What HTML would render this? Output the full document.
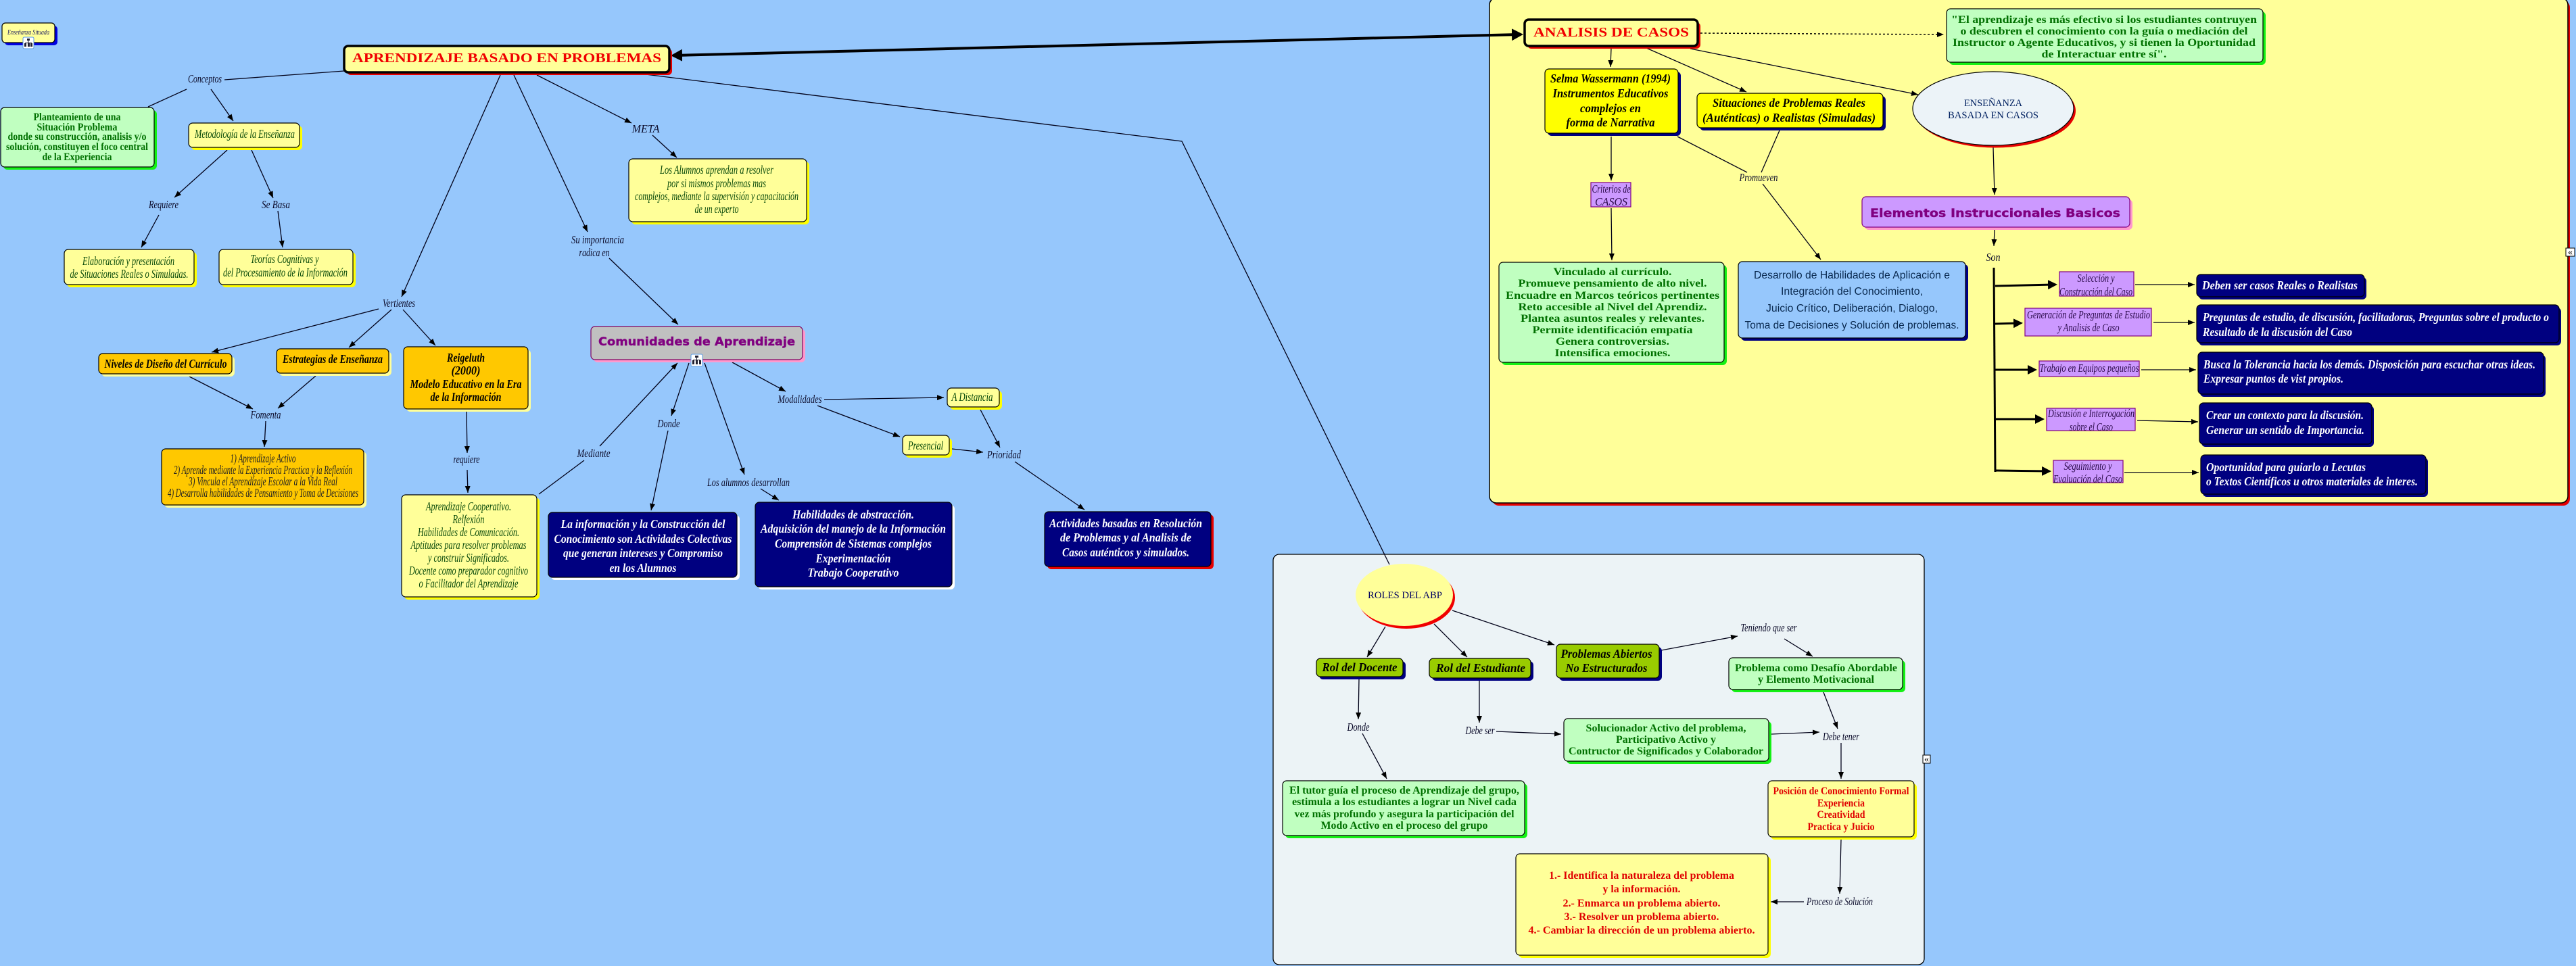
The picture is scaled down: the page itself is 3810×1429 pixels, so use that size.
<!DOCTYPE html>
<html lang="es">
<head>
<meta charset="utf-8">
<title>Aprendizaje Basado en Problemas</title>
<style>
html,body{margin:0;padding:0;background:#96c7fc;}
svg{display:block;}
text{text-anchor:middle;font-family:"Liberation Serif",serif;}
.l{font-size:17px;font-style:italic;fill:#0b0b2a;transform:translateY(1px);}
.y{font-size:18px;font-style:italic;fill:#0a4a0a;transform:translateY(1px);}
.g{font-size:16px;font-weight:bold;fill:#007000;transform:translateY(1px);}
.k{font-size:18px;font-weight:bold;font-style:italic;fill:#000;transform:translateY(1px);}
.w{font-size:18px;font-weight:bold;font-style:italic;fill:#fff;transform:translateY(1px);}
.p{font-size:17px;font-style:italic;fill:#2a0a4a;transform:translateY(1px);}
.r{font-size:15.5px;font-weight:bold;fill:#e00000;transform:translateY(1px);}
.h{font-family:"DejaVu Sans",sans-serif;font-size:17px;font-weight:bold;fill:#800080;stroke:#800080;stroke-width:.4;}
.n{font-size:14.5px;fill:#002060;}
.s{text-anchor:start;}
</style>
</head>
<body>
<svg xmlns="http://www.w3.org/2000/svg" width="3810" height="1429" viewBox="0 0 3810 1429">
<defs>
<marker id="a" markerUnits="userSpaceOnUse" markerWidth="10" markerHeight="8" refX="10" refY="4" orient="auto" viewBox="0 0 10 8"><path d="M0 0L10 4L0 8z" fill="#000"/></marker>
<marker id="m" markerUnits="userSpaceOnUse" markerWidth="14" markerHeight="14" refX="8" refY="7" orient="auto" viewBox="0 0 14 14"><path d="M0 0L14 7L0 14z" fill="#000"/></marker>
<marker id="b" markerUnits="userSpaceOnUse" markerWidth="17" markerHeight="18" refX="11" refY="9" orient="auto-start-reverse" viewBox="0 0 17 18"><path d="M0 0L17 9L0 18z" fill="#000"/></marker>
</defs>
<rect width="3810" height="1429" fill="#96c7fc"/>

<!-- Panels -->
<rect x="2207" y="1" width="1594" height="747" rx="10" fill="#e60000"/>
<rect x="2203" y="-3" width="1595" height="747" rx="10" fill="#ffff99" stroke="#000" stroke-width="1.5"/>
<rect x="1883" y="820" width="963" height="607" rx="9" fill="#ecf3f6" stroke="#000" stroke-width="1.3"/>

<!-- Connectors without arrowheads -->
<g stroke="#000018" stroke-width="1.3" fill="none">
<line x1="509" y1="105" x2="332" y2="118"/>
<line x1="276" y1="132" x2="219" y2="158"/>
<polyline points="923,106 1748,209 2055,835"/>
<line x1="797" y1="731" x2="864" y2="681"/>
<line x1="2481" y1="202" x2="2584" y2="255"/>
<line x1="2632" y1="193" x2="2605" y2="255"/>
</g>

<!-- Connectors with arrowheads -->
<g stroke="#000018" stroke-width="1.3" fill="none" marker-end="url(#a)">
<line x1="312" y1="132" x2="345" y2="179"/>
<line x1="336" y1="222" x2="258" y2="292"/>
<line x1="372" y1="222" x2="404" y2="293"/>
<line x1="235" y1="318" x2="209" y2="366"/>
<line x1="411" y1="312" x2="418" y2="366"/>
<line x1="740" y1="111" x2="594" y2="439"/>
<line x1="760" y1="111" x2="869" y2="343"/>
<line x1="794" y1="111" x2="934" y2="182"/>
<line x1="965" y1="200" x2="1001" y2="233"/>
<line x1="901" y1="382" x2="1003" y2="480"/>
<line x1="560" y1="457" x2="313" y2="521"/>
<line x1="579" y1="458" x2="516" y2="514"/>
<line x1="596" y1="458" x2="644" y2="511"/>
<line x1="280" y1="557" x2="374" y2="605"/>
<line x1="467" y1="556" x2="411" y2="604"/>
<line x1="393" y1="623" x2="391" y2="661"/>
<line x1="690" y1="608" x2="691" y2="670"/>
<line x1="691" y1="695" x2="692" y2="729"/>
<line x1="887" y1="660" x2="1002" y2="537"/>
<line x1="1019" y1="537" x2="993" y2="615"/>
<line x1="988" y1="637" x2="963" y2="755"/>
<line x1="1042" y1="537" x2="1101" y2="702"/>
<line x1="1125" y1="723" x2="1152" y2="740"/>
<line x1="1083" y1="536" x2="1162" y2="579"/>
<line x1="1219" y1="591" x2="1396" y2="588"/>
<line x1="1209" y1="600" x2="1331" y2="646"/>
<line x1="1408" y1="664" x2="1454" y2="669"/>
<line x1="1450" y1="606" x2="1479" y2="662"/>
<line x1="1501" y1="683" x2="1604" y2="754"/>
<line x1="2383" y1="71" x2="2382" y2="99"/>
<line x1="2435" y1="71" x2="2583" y2="136"/>
<line x1="2500" y1="72" x2="2837" y2="140"/>
<line x1="2383" y1="202" x2="2383" y2="267"/>
<line x1="2383" y1="308" x2="2384" y2="385"/>
<line x1="2607" y1="272" x2="2693" y2="384"/>
<line x1="2948" y1="218" x2="2950" y2="288"/>
<line x1="2950" y1="340" x2="2949" y2="364"/>
<line x1="3158" y1="421" x2="3246" y2="421"/>
<line x1="3185" y1="477" x2="3246" y2="477"/>
<line x1="3167" y1="547" x2="3248" y2="547"/>
<line x1="3161" y1="622" x2="3251" y2="624"/>
<line x1="3142" y1="699" x2="3252" y2="699"/>
<line x1="2049" y1="927" x2="2022" y2="972"/>
<line x1="2121" y1="923" x2="2170" y2="972"/>
<line x1="2148" y1="903" x2="2299" y2="954"/>
<line x1="2457" y1="962" x2="2570" y2="941"/>
<line x1="2639" y1="945" x2="2681" y2="971"/>
<line x1="2697" y1="1024" x2="2718" y2="1078"/>
<line x1="2010" y1="1005" x2="2009" y2="1064"/>
<line x1="2015" y1="1085" x2="2051" y2="1152"/>
<line x1="2188" y1="1007" x2="2188" y2="1069"/>
<line x1="2213" y1="1082" x2="2309" y2="1086"/>
<line x1="2620" y1="1086" x2="2691" y2="1083"/>
<line x1="2723" y1="1099" x2="2723" y2="1152"/>
<line x1="2723" y1="1242" x2="2721" y2="1322"/>
<line x1="2668" y1="1334" x2="2619" y2="1334"/>
</g>

<!-- Dotted and thick connectors -->
<line x1="2515" y1="49" x2="2875" y2="51" stroke="#000" stroke-width="1.5" stroke-dasharray="3 3" marker-end="url(#a)"/>
<line x1="998" y1="82" x2="2247" y2="51" stroke="#000" stroke-width="4" marker-start="url(#b)" marker-end="url(#b)"/>
<line x1="2949" y1="396" x2="2951" y2="698" stroke="#000" stroke-width="3"/>
<g stroke="#000" stroke-width="3" marker-end="url(#m)">
<line x1="2951" y1="423" x2="3037" y2="421"/>
<line x1="2951" y1="479" x2="2986" y2="478"/>
<line x1="2951" y1="547" x2="3007" y2="547"/>
<line x1="2951" y1="620" x2="3018" y2="620"/>
<line x1="2951" y1="696" x2="3028" y2="697"/>
</g>

<!-- Left side nodes -->
<rect x="7" y="38" width="78" height="29" rx="5" fill="#0000e0"/>
<rect x="3" y="34" width="78" height="29" rx="5" fill="#ffff99" stroke="#000" stroke-width="1.2"/>
<text x="42" y="51" font-size="10" font-style="italic" fill="#202060" textLength="62" lengthAdjust="spacingAndGlyphs">Enseñanza Situada</text>

<rect x="513" y="72" width="481" height="39" rx="6" fill="#e60000"/>
<rect x="509" y="68" width="481" height="39" rx="6" fill="#ffff99" stroke="#000" stroke-width="3.5"/>
<text x="749.5" y="92" font-size="20" font-weight="bold" fill="#f00000" textLength="457" lengthAdjust="spacingAndGlyphs">APRENDIZAJE BASADO EN PROBLEMAS</text>

<rect x="5" y="163" width="227" height="88" rx="6" fill="#14f014"/>
<rect x="1" y="159" width="227" height="88" rx="6" fill="#c0ffc0" stroke="#000" stroke-width="1.2"/>
<text class="g" x="114" y="177" textLength="129" lengthAdjust="spacingAndGlyphs">Planteamiento de una</text>
<text class="g" x="114" y="192" textLength="119" lengthAdjust="spacingAndGlyphs">Situación Problema</text>
<text class="g" x="114" y="206" textLength="205" lengthAdjust="spacingAndGlyphs">donde su construcción, analisis y/o</text>
<text class="g" x="114" y="221" textLength="210" lengthAdjust="spacingAndGlyphs">solución, constituyen el foco central</text>
<text class="g" x="114" y="236" textLength="103" lengthAdjust="spacingAndGlyphs">de la Experiencia</text>

<rect x="283" y="186" width="164" height="36" rx="6" fill="#ffff00"/>
<rect x="279" y="182" width="164" height="36" rx="6" fill="#ffff99" stroke="#000" stroke-width="1.2"/>
<text class="y" x="362" y="203" textLength="148" lengthAdjust="spacingAndGlyphs">Metodología de la Enseñanza</text>

<rect x="99" y="373" width="192" height="52" rx="6" fill="#ffff00"/>
<rect x="95" y="369" width="192" height="52" rx="6" fill="#ffff99" stroke="#000" stroke-width="1.2"/>
<text class="y" x="190" y="391" textLength="136" lengthAdjust="spacingAndGlyphs">Elaboración y presentación</text>
<text class="y" x="191" y="410" textLength="175" lengthAdjust="spacingAndGlyphs">de Situaciones Reales o Simuladas.</text>

<rect x="328" y="373" width="198" height="52" rx="6" fill="#ffff00"/>
<rect x="324" y="369" width="198" height="52" rx="6" fill="#ffff99" stroke="#000" stroke-width="1.2"/>
<text class="y" x="421" y="388" textLength="101" lengthAdjust="spacingAndGlyphs">Teorías Cognitivas y</text>
<text class="y" x="422" y="408" textLength="184" lengthAdjust="spacingAndGlyphs">del Procesamiento de la Información</text>

<rect x="934" y="239" width="263" height="93" rx="6" fill="#ffff00"/>
<rect x="930" y="235" width="263" height="93" rx="6" fill="#ffff99" stroke="#000" stroke-width="1.2"/>
<text class="y" x="1060" y="256" textLength="168" lengthAdjust="spacingAndGlyphs">Los Alumnos aprendan a resolver</text>
<text class="y" x="1060" y="276" textLength="146" lengthAdjust="spacingAndGlyphs">por si mismos problemas mas</text>
<text class="y" x="1060" y="295" textLength="242" lengthAdjust="spacingAndGlyphs">complejos, mediante la supervisión y capacitación</text>
<text class="y" x="1060" y="314" textLength="65" lengthAdjust="spacingAndGlyphs">de un experto</text>

<!-- Orange nodes -->
<rect x="150" y="527" width="197" height="30" rx="6" fill="#ffff99"/>
<rect x="146" y="523" width="197" height="30" rx="6" fill="#ffc800" stroke="#000" stroke-width="1.2"/>
<text class="k" x="245" y="543" textLength="181" lengthAdjust="spacingAndGlyphs">Niveles de Diseño del Currículo</text>

<rect x="413" y="520" width="166" height="36" rx="6" fill="#ffff99"/>
<rect x="409" y="516" width="166" height="36" rx="6" fill="#ffc800" stroke="#000" stroke-width="1.2"/>
<text class="k" x="492" y="536" textLength="148" lengthAdjust="spacingAndGlyphs">Estrategias de Enseñanza</text>

<rect x="601" y="517" width="184" height="92" rx="6" fill="#ffff99"/>
<rect x="597" y="513" width="184" height="92" rx="6" fill="#ffc800" stroke="#000" stroke-width="1.2"/>
<text class="k" x="689" y="534" textLength="56" lengthAdjust="spacingAndGlyphs">Reigeluth</text>
<text class="k" x="689" y="553" textLength="43" lengthAdjust="spacingAndGlyphs">(2000)</text>
<text class="k" x="689" y="573" textLength="165" lengthAdjust="spacingAndGlyphs">Modelo Educativo en la Era</text>
<text class="k" x="689" y="592" textLength="105" lengthAdjust="spacingAndGlyphs">de la Información</text>

<rect x="243" y="668" width="299" height="83" rx="6" fill="#ffff99"/>
<rect x="239" y="664" width="299" height="83" rx="6" fill="#ffc800" stroke="#000" stroke-width="1.2"/>
<text class="y" x="389" y="683" textLength="97" lengthAdjust="spacingAndGlyphs" style="fill:#222">1) Aprendizaje Activo</text>
<text class="y" x="389" y="700" textLength="264" lengthAdjust="spacingAndGlyphs" style="fill:#222">2) Aprende mediante la Experiencia Practica y la Reflexión</text>
<text class="y" x="389" y="717" textLength="220" lengthAdjust="spacingAndGlyphs" style="fill:#222">3) Vincula el Aprendizaje Escolar a la Vida Real</text>
<text class="y" x="389" y="734" textLength="282" lengthAdjust="spacingAndGlyphs" style="fill:#222">4) Desarrolla habilidades de Pensamiento y Toma de Decisiones</text>

<rect x="598" y="736" width="200" height="151" rx="6" fill="#ffff00"/>
<rect x="594" y="732" width="200" height="151" rx="6" fill="#ffff99" stroke="#000" stroke-width="1.2"/>
<text class="y" x="693" y="754" textLength="126" lengthAdjust="spacingAndGlyphs">Aprendizaje Cooperativo.</text>
<text class="y" x="693" y="773" textLength="47" lengthAdjust="spacingAndGlyphs">Relfexión</text>
<text class="y" x="693" y="792" textLength="150" lengthAdjust="spacingAndGlyphs">Habilidades de Comunicación.</text>
<text class="y" x="693" y="811" textLength="171" lengthAdjust="spacingAndGlyphs">Aptitudes para resolver problemas</text>
<text class="y" x="693" y="830" textLength="120" lengthAdjust="spacingAndGlyphs">y construir Significados.</text>
<text class="y" x="693" y="849" textLength="176" lengthAdjust="spacingAndGlyphs">Docente como preparador cognitivo</text>
<text class="y" x="693" y="868" textLength="147" lengthAdjust="spacingAndGlyphs">o Facilitador del Aprendizaje</text>

<!-- Comunidades -->
<rect x="878" y="487" width="313" height="49" rx="6" fill="#ff99cc"/>
<rect x="874" y="483" width="313" height="49" rx="6" fill="#c0c0c0" stroke="#800060" stroke-width="1.2"/>
<text class="h" x="1030.5" y="511" textLength="291" lengthAdjust="spacingAndGlyphs">Comunidades de Aprendizaje</text>

<rect x="815" y="762" width="279" height="96" rx="6" fill="#fff"/>
<rect x="811" y="758" width="279" height="96" rx="6" fill="#000080" stroke="#000" stroke-width="1.2"/>
<text class="w" x="951" y="780" textLength="243" lengthAdjust="spacingAndGlyphs">La información y la Construcción del</text>
<text class="w" x="951" y="802" textLength="263" lengthAdjust="spacingAndGlyphs">Conocimiento son Actividades Colectivas</text>
<text class="w" x="951" y="823" textLength="236" lengthAdjust="spacingAndGlyphs">que generan intereses y Compromiso</text>
<text class="w" x="951" y="845" textLength="99" lengthAdjust="spacingAndGlyphs">en los Alumnos</text>

<rect x="1121" y="747" width="291" height="125" rx="6" fill="#fff"/>
<rect x="1117" y="743" width="291" height="125" rx="6" fill="#000080" stroke="#000" stroke-width="1.2"/>
<text class="w" x="1262" y="766" textLength="180" lengthAdjust="spacingAndGlyphs">Habilidades de abstracción.</text>
<text class="w" x="1262" y="787" textLength="274" lengthAdjust="spacingAndGlyphs">Adquisición del manejo de la Información</text>
<text class="w" x="1262" y="809" textLength="232" lengthAdjust="spacingAndGlyphs">Comprensión de Sistemas complejos</text>
<text class="w" x="1262" y="831" textLength="111" lengthAdjust="spacingAndGlyphs">Experimentación</text>
<text class="w" x="1262" y="852" textLength="135" lengthAdjust="spacingAndGlyphs">Trabajo Cooperativo</text>

<rect x="1549" y="761" width="246" height="81" rx="6" fill="#e60000"/>
<rect x="1545" y="757" width="246" height="81" rx="6" fill="#000080" stroke="#000" stroke-width="1.2"/>
<text class="w" x="1665" y="779" textLength="226" lengthAdjust="spacingAndGlyphs">Actividades basadas en Resolución</text>
<text class="w" x="1665" y="800" textLength="194" lengthAdjust="spacingAndGlyphs">de Problemas y al Analisis de</text>
<text class="w" x="1665" y="822" textLength="188" lengthAdjust="spacingAndGlyphs">Casos auténticos y simulados.</text>

<rect x="1405" y="578" width="77" height="28" rx="6" fill="#ffff00"/>
<rect x="1401" y="574" width="77" height="28" rx="6" fill="#ffff99" stroke="#000" stroke-width="1.2"/>
<text class="y" x="1438" y="592" textLength="61" lengthAdjust="spacingAndGlyphs">A Distancia</text>

<rect x="1339" y="648" width="69" height="29" rx="6" fill="#ffff00"/>
<rect x="1335" y="644" width="69" height="29" rx="6" fill="#ffff99" stroke="#000" stroke-width="1.2"/>
<text class="y" x="1369" y="664" textLength="52" lengthAdjust="spacingAndGlyphs">Presencial</text>

<!-- Connector labels, left -->
<text class="l" x="303" y="121" textLength="50" lengthAdjust="spacingAndGlyphs">Conceptos</text>
<text class="l" x="242" y="307" textLength="44" lengthAdjust="spacingAndGlyphs">Requiere</text>
<text class="l" x="408" y="307" textLength="42" lengthAdjust="spacingAndGlyphs">Se Basa</text>
<text class="l" x="590" y="453" textLength="48" lengthAdjust="spacingAndGlyphs">Vertientes</text>
<text class="l" x="955" y="195" textLength="41" lengthAdjust="spacingAndGlyphs">META</text>
<text class="l" x="884" y="359" textLength="78" lengthAdjust="spacingAndGlyphs">Su importancia</text>
<text class="l" x="879" y="378" textLength="45" lengthAdjust="spacingAndGlyphs">radica en</text>
<text class="l" x="393" y="618" textLength="45" lengthAdjust="spacingAndGlyphs">Fomenta</text>
<text class="l" x="690" y="684" textLength="39" lengthAdjust="spacingAndGlyphs">requiere</text>
<text class="l" x="878" y="675" textLength="49" lengthAdjust="spacingAndGlyphs">Mediante</text>
<text class="l" x="989" y="631" textLength="33" lengthAdjust="spacingAndGlyphs">Donde</text>
<text class="l" x="1107" y="718" textLength="122" lengthAdjust="spacingAndGlyphs">Los alumnos desarrollan</text>
<text class="l" x="1183" y="595" textLength="65" lengthAdjust="spacingAndGlyphs">Modalidades</text>
<text class="l" x="1485" y="677" textLength="50" lengthAdjust="spacingAndGlyphs">Prioridad</text>

<!-- Casos panel nodes -->
<rect x="2259" y="33" width="256" height="39" rx="6" fill="#e60000"/>
<rect x="2255" y="29" width="256" height="39" rx="6" fill="#ffff99" stroke="#000" stroke-width="3.5"/>
<text x="2383" y="54" font-size="20" font-weight="bold" fill="#f00000" textLength="230" lengthAdjust="spacingAndGlyphs">ANALISIS DE CASOS</text>

<rect x="2883" y="17" width="468" height="79" rx="6" fill="#14f014"/>
<rect x="2879" y="13" width="468" height="79" rx="6" fill="#c0ffc0" stroke="#000" stroke-width="1.2"/>
<text class="g" x="3112" y="33" textLength="452" lengthAdjust="spacingAndGlyphs">"El aprendizaje es más efectivo si los estudiantes contruyen</text>
<text class="g" x="3112" y="50" textLength="425" lengthAdjust="spacingAndGlyphs">o descubren el conocimiento con la guía o mediación del</text>
<text class="g" x="3112" y="67" textLength="448" lengthAdjust="spacingAndGlyphs">Instructor o Agente Educativos, y si tienen la Oportunidad</text>
<text class="g" x="3112" y="84" textLength="185" lengthAdjust="spacingAndGlyphs">de Interactuar entre sí".</text>

<rect x="2289" y="106" width="197" height="95" rx="6" fill="#000080"/>
<rect x="2285" y="102" width="197" height="95" rx="6" fill="#ffff00" stroke="#000" stroke-width="1.2"/>
<text class="k" x="2382" y="121" textLength="178" lengthAdjust="spacingAndGlyphs">Selma Wassermann (1994)</text>
<text class="k" x="2382" y="143" textLength="171" lengthAdjust="spacingAndGlyphs">Instrumentos Educativos</text>
<text class="k" x="2382" y="165" textLength="90" lengthAdjust="spacingAndGlyphs">complejos en</text>
<text class="k" x="2382" y="186" textLength="131" lengthAdjust="spacingAndGlyphs">forma de Narrativa</text>

<rect x="2514" y="142" width="275" height="51" rx="6" fill="#000080"/>
<rect x="2510" y="138" width="275" height="51" rx="6" fill="#ffff00" stroke="#000" stroke-width="1.2"/>
<text class="k" x="2646" y="157" textLength="226" lengthAdjust="spacingAndGlyphs">Situaciones de Problemas Reales</text>
<text class="k" x="2646" y="179" textLength="256" lengthAdjust="spacingAndGlyphs">(Auténticas) o Realistas (Simuladas)</text>

<ellipse cx="2951" cy="164" rx="119" ry="54.5" fill="#e60000"/>
<ellipse cx="2948" cy="160.5" rx="119" ry="54.5" fill="#ecf3f8" stroke="#000" stroke-width="1.2"/>
<text class="n" x="2948" y="157" textLength="86" lengthAdjust="spacingAndGlyphs">ENSEÑANZA</text>
<text class="n" x="2948" y="175" textLength="134" lengthAdjust="spacingAndGlyphs">BASADA EN CASOS</text>

<rect x="2758" y="295" width="396" height="45" rx="6" fill="#ff99cc"/>
<rect x="2754" y="291" width="396" height="45" rx="6" fill="#cc99ff" stroke="#800080" stroke-width="1.2"/>
<text class="h" x="2951" y="321" textLength="370" lengthAdjust="spacingAndGlyphs">Elementos Instruccionales Basicos</text>

<rect x="2353" y="270" width="59" height="36" fill="#cc99ff" stroke="#800080" stroke-width="1.2"/>
<text class="p" x="2383" y="284" textLength="57" lengthAdjust="spacingAndGlyphs">Criterios de</text>
<text class="p" x="2383" y="303" textLength="48" lengthAdjust="spacingAndGlyphs">CASOS</text>

<text class="l" x="2601" y="267" textLength="57" lengthAdjust="spacingAndGlyphs">Promueven</text>
<text class="l" x="2948" y="385" textLength="21" lengthAdjust="spacingAndGlyphs">Son</text>

<rect x="2221" y="392" width="333" height="148" rx="6" fill="#14f014"/>
<rect x="2217" y="388" width="333" height="148" rx="6" fill="#c0ffc0" stroke="#000" stroke-width="1.2"/>
<text class="g" x="2385" y="406" textLength="175" lengthAdjust="spacingAndGlyphs">Vinculado al currículo.</text>
<text class="g" x="2385" y="423" textLength="279" lengthAdjust="spacingAndGlyphs">Promueve pensamiento de alto nivel.</text>
<text class="g" x="2385" y="441" textLength="316" lengthAdjust="spacingAndGlyphs">Encuadre en Marcos teóricos pertinentes</text>
<text class="g" x="2385" y="458" textLength="279" lengthAdjust="spacingAndGlyphs">Reto accesible al Nivel del Aprendiz.</text>
<text class="g" x="2385" y="475" textLength="272" lengthAdjust="spacingAndGlyphs">Plantea asuntos reales y relevantes.</text>
<text class="g" x="2385" y="492" textLength="237" lengthAdjust="spacingAndGlyphs">Permite identificación empatía</text>
<text class="g" x="2385" y="509" textLength="168" lengthAdjust="spacingAndGlyphs">Genera controversias.</text>
<text class="g" x="2385" y="526" textLength="171" lengthAdjust="spacingAndGlyphs">Intensifica emociones.</text>

<rect x="2575" y="391" width="336" height="113" rx="6" fill="#000080"/>
<rect x="2571" y="387" width="336" height="113" rx="6" fill="#96c7fc" stroke="#000" stroke-width="1.2"/>
<g font-size="16" fill="#0a2a50">
<text x="2739" y="412" style="font-family:'Liberation Sans',sans-serif" textLength="290" lengthAdjust="spacingAndGlyphs">Desarrollo de Habilidades de Aplicación e</text>
<text x="2739" y="436" style="font-family:'Liberation Sans',sans-serif" textLength="210" lengthAdjust="spacingAndGlyphs">Integración del Conocimiento,</text>
<text x="2739" y="461" style="font-family:'Liberation Sans',sans-serif" textLength="254" lengthAdjust="spacingAndGlyphs">Juicio Crítico, Deliberación, Dialogo,</text>
<text x="2739" y="486" style="font-family:'Liberation Sans',sans-serif" textLength="317" lengthAdjust="spacingAndGlyphs">Toma de Decisiones y Solución de problemas.</text>
</g>

<!-- Purple rectangles -->
<g fill="#cc99ff" stroke="#800080" stroke-width="1.2">
<rect x="3046" y="402" width="110" height="36"/>
<rect x="2995" y="456" width="187" height="41"/>
<rect x="3016" y="534" width="148" height="23"/>
<rect x="3027" y="604" width="131" height="33"/>
<rect x="3037" y="681" width="103" height="33"/>
</g>
<text class="p" x="3100" y="416" textLength="55" lengthAdjust="spacingAndGlyphs">Selección y</text>
<text class="p" x="3100" y="436" textLength="108" lengthAdjust="spacingAndGlyphs">Construcción del Caso</text>
<text class="p" x="3089" y="470" textLength="182" lengthAdjust="spacingAndGlyphs">Generación de Preguntas de Estudio</text>
<text class="p" x="3089" y="489" textLength="91" lengthAdjust="spacingAndGlyphs">y Analisis de Caso</text>
<text class="p" x="3090" y="549" textLength="147" lengthAdjust="spacingAndGlyphs">Trabajo en Equipos pequeños</text>
<text class="p" x="3093" y="616" textLength="128" lengthAdjust="spacingAndGlyphs">Discusión e Interrogación</text>
<text class="p" x="3093" y="636" textLength="64" lengthAdjust="spacingAndGlyphs">sobre el Caso</text>
<text class="p" x="3088" y="694" textLength="71" lengthAdjust="spacingAndGlyphs">Seguimiento y</text>
<text class="p" x="3088" y="713" textLength="102" lengthAdjust="spacingAndGlyphs">Evaluación del Caso</text>

<!-- Navy boxes on the right -->
<g fill="#000080">
<rect x="3252" y="410" width="248" height="33" rx="6"/>
<rect x="3252" y="455" width="536" height="56" rx="6"/>
<rect x="3254" y="525" width="511" height="62" rx="6"/>
<rect x="3256" y="600" width="255" height="61" rx="6"/>
<rect x="3258" y="677" width="333" height="58" rx="6"/>
</g>
<g fill="#000080" stroke="#000" stroke-width="1.2">
<rect x="3249" y="406" width="248" height="33" rx="6"/>
<rect x="3249" y="451" width="536" height="56" rx="6"/>
<rect x="3251" y="521" width="511" height="62" rx="6"/>
<rect x="3253" y="596" width="255" height="61" rx="6"/>
<rect x="3255" y="673" width="333" height="58" rx="6"/>
</g>
<text class="w" x="3372" y="427" textLength="230" lengthAdjust="spacingAndGlyphs">Deben ser casos Reales o Realistas</text>
<text class="w s" x="3258" y="474" textLength="512" lengthAdjust="spacingAndGlyphs">Preguntas de estudio, de discusión, facilitadoras, Preguntas sobre el producto o</text>
<text class="w s" x="3258" y="496" textLength="221" lengthAdjust="spacingAndGlyphs">Resultado de la discusión del Caso</text>
<text class="w s" x="3259" y="544" textLength="491" lengthAdjust="spacingAndGlyphs">Busca la Tolerancia hacia los demás. Disposición para escuchar otras ideas.</text>
<text class="w s" x="3259" y="565" textLength="207" lengthAdjust="spacingAndGlyphs">Expresar puntos de vist propios.</text>
<text class="w s" x="3263" y="619" textLength="233" lengthAdjust="spacingAndGlyphs">Crear un contexto para la discusión.</text>
<text class="w s" x="3263" y="641" textLength="234" lengthAdjust="spacingAndGlyphs">Generar un sentido de Importancia.</text>
<text class="w s" x="3263" y="696" textLength="236" lengthAdjust="spacingAndGlyphs">Oportunidad para guiarlo a Lecutas</text>
<text class="w s" x="3263" y="717" textLength="313" lengthAdjust="spacingAndGlyphs">o Textos Científicos u otros materiales de interes.</text>

<!-- Roles panel nodes -->
<ellipse cx="2080" cy="884" rx="72" ry="46" fill="#f00000"/>
<ellipse cx="2077" cy="880" rx="72" ry="46" fill="#ffff99"/>
<text x="2078" y="885" font-size="15" fill="#000060" textLength="110" lengthAdjust="spacingAndGlyphs">ROLES DEL ABP</text>

<g fill="#000080">
<rect x="1951" y="978" width="128" height="27" rx="6"/>
<rect x="2118" y="978" width="150" height="29" rx="6"/>
<rect x="2306" y="957" width="152" height="50" rx="6"/>
</g>
<g fill="#99cc00" stroke="#000" stroke-width="1.2">
<rect x="1947" y="974" width="128" height="27" rx="6"/>
<rect x="2114" y="974" width="150" height="29" rx="6"/>
<rect x="2302" y="953" width="152" height="50" rx="6"/>
</g>
<text class="k" x="2011" y="992" textLength="111" lengthAdjust="spacingAndGlyphs">Rol del Docente</text>
<text class="k" x="2190" y="993" textLength="132" lengthAdjust="spacingAndGlyphs">Rol del Estudiante</text>
<text class="k" x="2376" y="972" textLength="135" lengthAdjust="spacingAndGlyphs">Problemas Abiertos</text>
<text class="k" x="2376" y="993" textLength="121" lengthAdjust="spacingAndGlyphs">No Estructurados</text>

<rect x="2561" y="977" width="257" height="47" rx="6" fill="#14f014"/>
<rect x="2557" y="973" width="257" height="47" rx="6" fill="#c0ffc0" stroke="#000" stroke-width="1.2"/>
<text class="g" x="2686" y="992" textLength="240" lengthAdjust="spacingAndGlyphs">Problema como Desafío Abordable</text>
<text class="g" x="2686" y="1009" textLength="172" lengthAdjust="spacingAndGlyphs">y Elemento Motivacional</text>

<rect x="2317" y="1067" width="303" height="63" rx="6" fill="#14f014"/>
<rect x="2313" y="1063" width="303" height="63" rx="6" fill="#c0ffc0" stroke="#000" stroke-width="1.2"/>
<text class="g" x="2464" y="1081" textLength="237" lengthAdjust="spacingAndGlyphs">Solucionador Activo del problema,</text>
<text class="g" x="2464" y="1098" textLength="148" lengthAdjust="spacingAndGlyphs">Participativo Activo y</text>
<text class="g" x="2464" y="1115" textLength="288" lengthAdjust="spacingAndGlyphs">Contructor de Significados y Colaborador</text>

<rect x="1901" y="1159" width="358" height="81" rx="6" fill="#14f014"/>
<rect x="1897" y="1155" width="358" height="81" rx="6" fill="#c0ffc0" stroke="#000" stroke-width="1.2"/>
<text class="g" x="2077" y="1173" textLength="340" lengthAdjust="spacingAndGlyphs">El tutor guía el proceso de Aprendizaje del grupo,</text>
<text class="g" x="2077" y="1190" textLength="332" lengthAdjust="spacingAndGlyphs">estimula a los estudiantes a lograr un Nivel cada</text>
<text class="g" x="2077" y="1208" textLength="325" lengthAdjust="spacingAndGlyphs">vez más profundo y asegura la participación del</text>
<text class="g" x="2077" y="1225" textLength="247" lengthAdjust="spacingAndGlyphs">Modo Activo en el proceso del grupo</text>

<rect x="2619" y="1159" width="216" height="83" rx="6" fill="#ffff00"/>
<rect x="2615" y="1155" width="216" height="83" rx="6" fill="#ffff99" stroke="#000" stroke-width="1.2"/>
<text class="r" x="2723" y="1174" textLength="201" lengthAdjust="spacingAndGlyphs">Posición de Conocimiento Formal</text>
<text class="r" x="2723" y="1192" textLength="70" lengthAdjust="spacingAndGlyphs">Experiencia</text>
<text class="r" x="2723" y="1209" textLength="71" lengthAdjust="spacingAndGlyphs">Creatividad</text>
<text class="r" x="2723" y="1227" textLength="99" lengthAdjust="spacingAndGlyphs">Practica y Juicio</text>

<rect x="2246" y="1267" width="373" height="150" rx="6" fill="#ffff00"/>
<rect x="2242" y="1263" width="373" height="150" rx="6" fill="#ffff99" stroke="#000" stroke-width="1.2"/>
<text class="r" x="2428" y="1299" textLength="274" lengthAdjust="spacingAndGlyphs">1.- Identifica la naturaleza del problema</text>
<text class="r" x="2428" y="1319" textLength="115" lengthAdjust="spacingAndGlyphs">y la información.</text>
<text class="r" x="2428" y="1340" textLength="233" lengthAdjust="spacingAndGlyphs">2.- Enmarca un problema abierto.</text>
<text class="r" x="2428" y="1360" textLength="229" lengthAdjust="spacingAndGlyphs">3.- Resolver un problema abierto.</text>
<text class="r" x="2428" y="1380" textLength="335" lengthAdjust="spacingAndGlyphs">4.- Cambiar la dirección de un problema abierto.</text>

<text class="l" x="2616" y="933" textLength="83" lengthAdjust="spacingAndGlyphs">Teniendo que ser</text>
<text class="l" x="2009" y="1080" textLength="33" lengthAdjust="spacingAndGlyphs">Donde</text>
<text class="l" x="2189" y="1085" textLength="43" lengthAdjust="spacingAndGlyphs">Debe ser</text>
<text class="l" x="2723" y="1094" textLength="54" lengthAdjust="spacingAndGlyphs">Debe tener</text>
<text class="l" x="2721" y="1338" textLength="98" lengthAdjust="spacingAndGlyphs">Proceso de Solución</text>

<!-- Hierarchy icons -->
<g>
<rect x="34" y="55" width="16" height="17" rx="2" fill="#fff" stroke="#5a9ae0" stroke-width="1"/>
<g fill="#223" stroke="none">
<rect x="40" y="57" width="4" height="3"/><rect x="41.5" y="60" width="1" height="3"/><rect x="37" y="63" width="10" height="1"/>
<rect x="36" y="64" width="3" height="5"/><rect x="41" y="64" width="3" height="5"/><rect x="45" y="64" width="3" height="5"/>
</g>
</g>
<g>
<rect x="1022" y="524" width="17" height="18" rx="2" fill="#fff" stroke="#5a9ae0" stroke-width="1"/>
<g fill="#223" stroke="none">
<rect x="1028" y="526" width="5" height="3"/><rect x="1030" y="529" width="1" height="3"/><rect x="1025" y="532" width="11" height="1"/>
<rect x="1024" y="533" width="3" height="6"/><rect x="1029" y="533" width="3" height="6"/><rect x="1034" y="533" width="3" height="6"/>
</g>
</g>

<!-- Collapse toggles -->
<rect x="3795" y="367" width="13" height="12" fill="#fff" stroke="#000"/>
<text x="3801.5" y="377" font-size="14" fill="#000">«</text>
<rect x="2844" y="1117" width="11" height="12" fill="#fff" stroke="#000"/>
<text x="2849.5" y="1127" font-size="14" fill="#000">«</text>
</svg>
</body>
</html>
